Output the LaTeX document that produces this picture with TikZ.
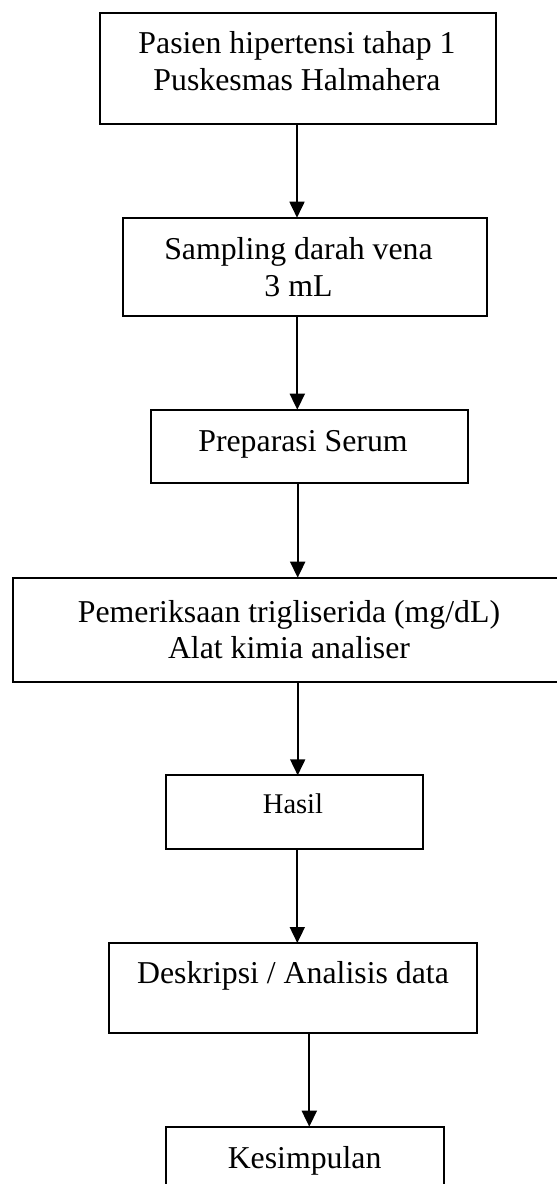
\documentclass[tikz,border=0pt]{standalone}
\usepackage{fontspec}
\setmainfont{Liberation Serif}
\usetikzlibrary{arrows.meta}
\begin{document}
\begin{tikzpicture}[x=1pt,y=-1pt,
  box/.style={draw, line width=1.8pt, inner sep=0pt, outer sep=0pt, anchor=north west},
  txt/.style={inner sep=0pt, anchor=north, align=center, font=\fontsize{31.8}{36.5}\selectfont},
  txtsmall/.style={inner sep=0pt, anchor=north, align=center, font=\fontsize{28.5}{33}\selectfont},
  arr/.style={line width=1.8pt, -{Triangle[width=15pt,length=16pt]}}]
\clip (0,0) rectangle (557,1184);
\fill[white] (0,0) rectangle (557,1184);
% boxes
\node[box, minimum width=396.3pt, minimum height=111.3pt] (b1) at (100,12.7) {};
\node[box, minimum width=363.7pt, minimum height=98pt] (b2) at (123,217.7) {};
\node[box, minimum width=317.3pt, minimum height=73.3pt] (b3) at (150.7,409.7) {};
\node[box, minimum width=553pt, minimum height=104pt] (b4) at (13,577.7) {};
\node[box, minimum width=257pt, minimum height=74pt] (b5) at (165.7,775.3) {};
\node[box, minimum width=368.3pt, minimum height=89.7pt] (b6) at (109,943) {};
\node[box, minimum width=278.6pt, minimum height=70pt] (b7) at (165.7,1126.7) {};
% texts
\node[txt] (t1) at (297,31.6) {Pasien hipertensi tahap 1\\Puskesmas Halmahera};
\node[txt] (t2) at (298.5,237.6) {Sampling darah vena\\3 mL};
\node[txt] (t3) at (303,430) {Preparasi Serum};
\node[txt] (t4) at (289,600) {Pemeriksaan trigliserida (mg/dL)\\Alat kimia analiser};
\node[txtsmall] (t5) at (293,793.2) {Hasil};
\node[txt] (t6) at (293,961.6) {Deskripsi / Analisis data};
\node[txt] (t7) at (304.6,1146.6) {Kesimpulan};
% arrow columns
\coordinate (x1) at (297,0);
\coordinate (x2) at (297.3,0);
\coordinate (x3) at (297.7,0);
\coordinate (x4) at (297.7,0);
\coordinate (x5) at (297.3,0);
\coordinate (x6) at (309.3,0);
\draw[arr] (b1.south -| x1) -- (b2.north -| x1);
\draw[arr] (b2.south -| x2) -- (b3.north -| x2);
\draw[arr] (b3.south -| x3) -- (b4.north -| x3);
\draw[arr] (b4.south -| x4) -- (b5.north -| x4);
\draw[arr] (b5.south -| x5) -- (b6.north -| x5);
\draw[arr] (b6.south -| x6) -- (b7.north -| x6);
\end{tikzpicture}
\end{document}
